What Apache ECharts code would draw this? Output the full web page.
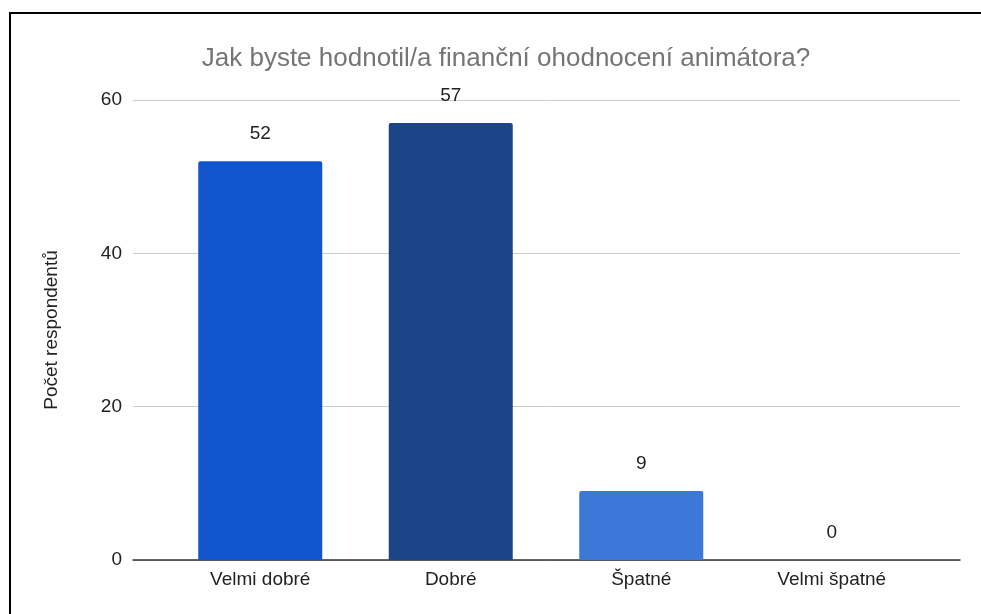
<!DOCTYPE html>
<html>
<head>
<meta charset="utf-8">
<script src="https://cdn.jsdelivr.net/npm/echarts@6/dist/echarts.min.js"></script>
<style>
  html, body { margin: 0; padding: 0; background: #fff; overflow: hidden; }
  #chart { position: absolute; left: 0; top: 0; width: 981px; height: 614px; }
  #frame { position: absolute; left: 9px; top: 12px; width: 1000px; height: 700px;
           border-top: 2px solid #000; border-left: 2px solid #000; pointer-events: none; }
</style>
</head>
<body>
<div id="chart"></div>
<div id="frame"></div>
<script>
// Survey answers and respondent counts
const titleText = 'Jak byste hodnotil/a finanční ohodnocení animátora?';
const yAxisName = 'Počet respondentů';
const categories = ['Velmi dobré', 'Dobré', 'Špatné', 'Velmi špatné'];
const counts = [52, 57, 9, 0];
const barColors = ['#1155cc', '#1c4587', '#3c78d8', '#6d9eeb'];
const yTicks = [0, 20, 40, 60];

const FONT = '"Liberation Sans", Arial, sans-serif';
const chart = echarts.init(document.getElementById('chart'));

const yMin = yTicks[0];
const yMax = yTicks[yTicks.length - 1];
const yStep = yTicks[1] - yTicks[0];

chart.setOption({
  animation: false,
  title: {
    text: titleText,
    left: 501,
    textAlign: 'center',
    top: 41,
    textStyle: { fontFamily: FONT, fontSize: 26, fontWeight: 'normal', color: '#757575' }
  },
  grid: [
    // value grid: gridlines and baseline
    { left: 133, right: 21, top: 100, bottom: 54 },
    // category band holding the bars
    { left: 165, right: 54, top: 100, bottom: 54 }
  ],
  xAxis: [
    {
      gridIndex: 0, type: 'value', min: 0, max: 1,
      axisLine: { show: true, lineStyle: { color: '#333', width: 1.5 } },
      axisTick: { show: false }, axisLabel: { show: false }, splitLine: { show: false }
    },
    {
      gridIndex: 1, type: 'category', data: categories,
      axisLine: { show: false }, axisTick: { show: false },
      axisLabel: { margin: 10, fontFamily: FONT, fontSize: 19, color: '#222' }
    }
  ],
  yAxis: [
    {
      gridIndex: 0, type: 'value', min: yMin, max: yMax, interval: yStep,
      name: yAxisName, nameLocation: 'middle', nameGap: 72, nameRotate: 90,
      nameTextStyle: { fontFamily: FONT, fontSize: 19, color: '#222' },
      axisLine: { show: false }, axisTick: { show: false },
      axisLabel: { margin: 11, fontFamily: FONT, fontSize: 19, color: '#222' },
      splitLine: { lineStyle: { color: '#cccccc', width: 1 } }
    },
    {
      gridIndex: 1, type: 'value', min: yMin, max: yMax, interval: yStep,
      show: false, splitLine: { show: false }
    }
  ],
  series: [
    {
      type: 'bar',
      xAxisIndex: 1, yAxisIndex: 1,
      barWidth: 124,
      data: counts.map((v, i) => ({
        value: v,
        itemStyle: { color: barColors[i], borderRadius: [2, 2, 0, 0] }
      })),
      label: {
        show: true, position: 'top', distance: 18,
        fontFamily: FONT, fontSize: 19, color: '#222'
      },
      z: 3
    }
  ]
});
</script>
</body>
</html>
